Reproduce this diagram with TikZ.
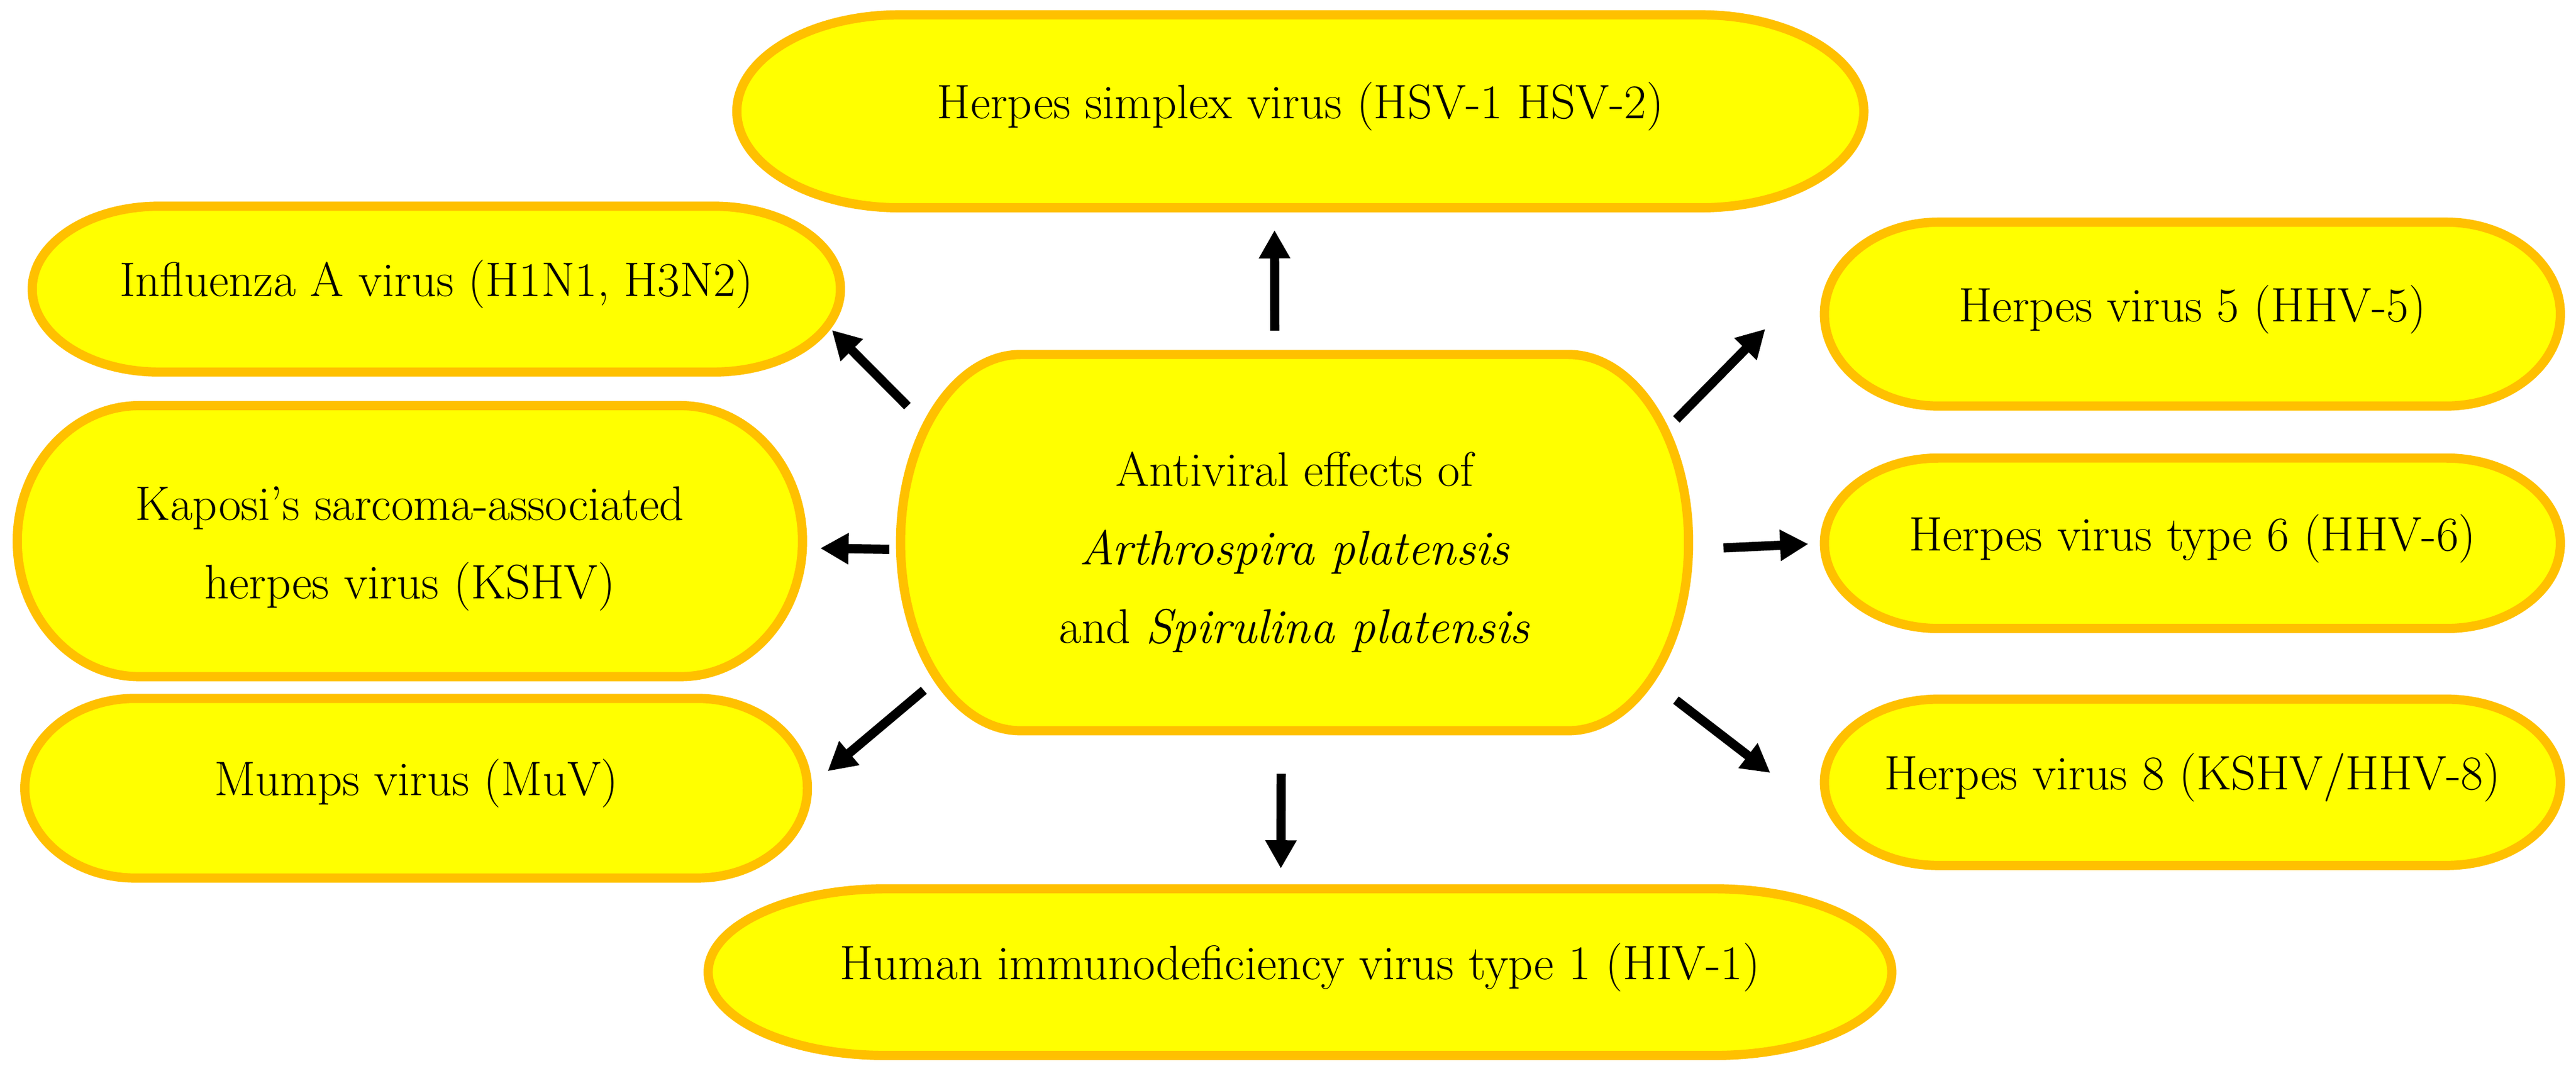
\documentclass[tikz,border=0pt]{standalone}
\usepackage{fontspec}
\usetikzlibrary{%
  arrows.meta,%
  calc,% wg. let
  backgrounds%
}
\definecolor{boxfill}{HTML}{FFFF00}
\definecolor{boxline}{HTML}{FFC000}

% capsule round a node: flat top and bottom, elliptic ends of width #2
\newcommand{\drawpill}[2]{%
  \path[pill] let \p1=(#1.north west), \p2=(#1.south east),
      \n1={0.5*(\y1-\y2)} in
    (\x1+#2,\y1) -- (\x2-#2,\y1)
    arc[start angle=90,end angle=-90,x radius=#2,y radius=\n1]
    -- (\x1+#2,\y2)
    arc[start angle=270,end angle=90,x radius=#2,y radius=\n1] -- cycle;}

\begin{document}
\begin{tikzpicture}[
    x=0.25mm,y=-0.25mm,
    >={Triangle[length=4.3mm,width=4.5mm]},
    virus/.style={rectangle,inner sep=0pt,align=center,
        font=\fontsize{21}{34}\selectfont},
    oneline/.style={virus,text height=0.86em,text depth=0.22em},
    pill/.style={fill=boxfill,draw=boxline,line width=1.4mm},
    effect/.style={->,line width=1.4mm}
  ]
    \useasboundingbox (0,0) rectangle (1568,651.6);

    \node (main) [virus,text height=91pt,
        minimum width=119.775mm,minimum height=57.125mm]
        at (788,330.3) {Antiviral effects of\\\textit{Arthrospira platensis}\\
        and \textit{Spirulina platensis}};

    \node (hsv)  [oneline,minimum width=171.35mm,minimum height=29.225mm]
        at (791.5,67.75) {Herpes simplex virus (HSV-1 HSV-2)};
    \node (flu)  [oneline,minimum width=122.85mm,minimum height=25.1mm]
        at (265.6,176) {Influenza A virus (H1N1, H3N2)};
    \node (kshv) [virus,text height=55.2pt,
        minimum width=119.35mm,minimum height=41.1mm]
        at (249.5,329.4) {Kaposi's sarcoma-associated\\herpes virus (KSHV)};
    \node (muv)  [oneline,minimum width=118.95mm,minimum height=27.2mm]
        at (253.3,479.8) {Mumps virus (MuV)};
    \node (hiv)  [oneline,minimum width=179.975mm,minimum height=25.225mm]
        at (791.3,591.75) {Human immunodeficiency virus type 1 (HIV-1)};
    \node (hhvfive)  [oneline,minimum width=111.85mm,minimum height=27.85mm]
        at (1334.5,191.2) {Herpes virus 5 (HHV-5)};
    \node (hhvsix)   [oneline,minimum width=111.85mm,minimum height=25.8mm]
        at (1334.5,330.7) {Herpes virus type 6 (HHV-6)};
    \node (hhveight) [oneline,minimum width=111.85mm,minimum height=25.175mm]
        at (1334.5,476.2) {Herpes virus 8 (KSHV/HHV-8)};

    \begin{scope}[on background layer]
        \drawpill{main}{18.3mm}
        \drawpill{hsv}{24.8mm}
        \drawpill{flu}{19.3mm}
        \drawpill{kshv}{18.55mm}
        \drawpill{muv}{16.8mm}
        \drawpill{hiv}{27.05mm}
        \drawpill{hhvfive}{17.4mm}
        \drawpill{hhvsix}{17.4mm}
        \drawpill{hhveight}{17.4mm}
    \end{scope}

    \draw[effect,shorten <=3.61mm,shorten >=3.4mm]   (main.96.19)   -- (hsv.-105.22);
    \draw[effect,shorten <=-1.48mm,shorten >=-1.85mm] (main.160.65) -- (flu.-7.91);
    \draw[effect,shorten <=1.71mm,shorten >=2.7mm]   (main.181.07)  -- (kshv.-1.79);
    \draw[effect,shorten <=-4.63mm,shorten >=4.03mm] (main.203.93)  -- (muv.0.31);
    \draw[effect,shorten <=6.54mm,shorten >=3.08mm]  (main.-94.25)  -- (hiv.103.16);
    \draw[effect,shorten <=-2.66mm,shorten >=12.83mm] (main.19.43)  -- (hhvfive.173.96);
    \draw[effect,shorten <=5.31mm,shorten >=2.45mm]  (main.-1.24)   -- (hhvsix.180.74);
    \draw[effect,shorten <=-2.43mm,shorten >=10.39mm] (main.-23.14) -- (hhveight.185.01);
\end{tikzpicture}
\end{document}
